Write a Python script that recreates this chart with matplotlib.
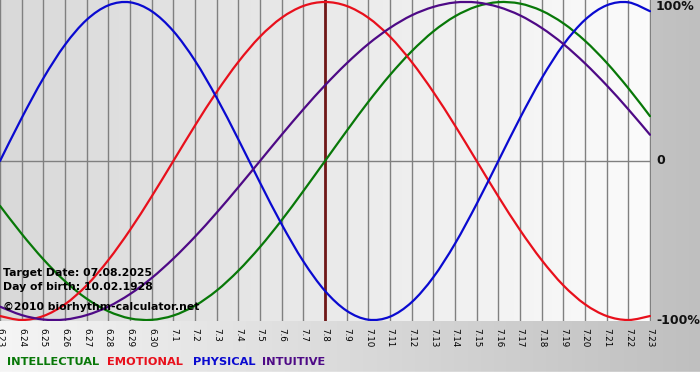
import numpy as np
import matplotlib
matplotlib.use("Agg")
import matplotlib.pyplot as plt
from matplotlib.path import Path
from matplotlib.patches import PathPatch

# days shown, 6.23 .. 7.23 (target day 7.8 in the middle)
days = ["6.23", "6.24", "6.25", "6.26", "6.27", "6.28", "6.29", "6.30",
        "7.1", "7.2", "7.3", "7.4", "7.5", "7.6", "7.7", "7.8", "7.9",
        "7.10", "7.11", "7.12", "7.13", "7.14", "7.15", "7.16", "7.17",
        "7.18", "7.19", "7.20", "7.21", "7.22", "7.23"]
target_day = "7.8"

# daily values (-1 .. 1)
intellectual = [-0.282, -0.458, -0.618, -0.756, -0.866, -0.945, -0.990, -0.999,
                -0.972, -0.910, -0.815, -0.690, -0.541, -0.372, -0.189, 0.0,
                0.189, 0.372, 0.541, 0.690, 0.815, 0.910, 0.972, 0.999,
                0.990, 0.945, 0.866, 0.756, 0.618, 0.458, 0.282]
emotional = [-0.975, -1.0, -0.975, -0.901, -0.782, -0.623, -0.434, -0.223,
             0.0, 0.223, 0.434, 0.623, 0.782, 0.901, 0.975, 1.0,
             0.975, 0.901, 0.782, 0.623, 0.434, 0.223, 0.0, -0.223,
             -0.434, -0.623, -0.782, -0.901, -0.975, -1.0, -0.975]
physical = [0.0, 0.270, 0.520, 0.731, 0.888, 0.979, 0.998, 0.942,
            0.817, 0.631, 0.398, 0.136, -0.136, -0.398, -0.631, -0.817,
            -0.942, -0.998, -0.979, -0.888, -0.731, -0.520, -0.270, 0.0,
            0.270, 0.520, 0.731, 0.888, 0.979, 0.998, 0.942]
intuitive = [-0.916, -0.969, -0.997, -0.997, -0.969, -0.916, -0.837, -0.736,
             -0.614, -0.476, -0.325, -0.165, 0.0, 0.165, 0.325, 0.476,
             0.614, 0.736, 0.837, 0.916, 0.969, 0.997, 0.997, 0.969,
             0.916, 0.837, 0.736, 0.614, 0.476, 0.325, 0.165]

series = [("INTELLECTUAL", intellectual, "#087808"),
          ("EMOTIONAL", emotional, "#e8101c"),
          ("PHYSICAL", physical, "#0a0ad0"),
          ("INTUITIVE", intuitive, "#4e0a86")]

W, H = 700, 380


def px(x, y):
    # pixel position (from top left) -> figure fraction
    return x / W, 1 - y / H


def smooth_path(xs, ys):
    # bezier path through the daily points (catmull-rom style handles)
    p = np.column_stack([xs, ys]).astype(float)
    ext = np.vstack([p[0], p, p[-1]])
    verts = [p[0]]
    codes = [Path.MOVETO]
    for i in range(len(p) - 1):
        c1 = ext[i + 1] + (ext[i + 2] - ext[i]) / 6
        c2 = ext[i + 2] - (ext[i + 3] - ext[i + 1]) / 6
        verts += [c1, c2, p[i + 1]]
        codes += [Path.CURVE4] * 3
    return Path(verts, codes)


fig = plt.figure(figsize=(7, 3.8), dpi=100)

# figure background: light on the left, gray on the right, white strip at the bottom
bg = fig.add_axes([0, 0, 1, 1], zorder=-10)
grad = np.linspace(0.96, 0.75, 256).reshape(1, -1)
bg.imshow(np.dstack([grad] * 3), aspect="auto", extent=[0, 1, 8 / H, 1])
bg.axhspan(0, 8 / H, color="white")
bg.set_xlim(0, 1)
bg.set_ylim(0, 1)
bg.axis("off")

# plot area 651 x 321 px at the top left
ax = fig.add_axes([0, 59 / H, 651 / W, 321 / H])
n = len(days)
x = np.arange(n)
xmax = 651 / (650 / (n - 1))
ax.set_xlim(0, xmax)
ax.set_ylim(-160 / 159, 161 / 159)

pgrad = np.linspace(0.85, 0.985, 256).reshape(1, -1)
ax.imshow(np.dstack([pgrad] * 3), aspect="auto",
          extent=[0, xmax, -160 / 159, 161 / 159], zorder=0)

for xi in x:
    ax.axvline(xi, color="#808080", lw=1, zorder=1)
ax.axhline(0, color="#808080", lw=1, zorder=1)
ax.axvline(days.index(target_day), color="#701818", lw=2, zorder=2)

for name, vals, col in series:
    ax.add_patch(PathPatch(smooth_path(x, vals), fill=False, edgecolor=col,
                           lw=1.6, zorder=3, capstyle="round"))

ax.set_xticks(x)
ax.set_xticklabels(days, rotation=-90, fontsize=6.3)
ax.tick_params(axis="x", length=0, pad=5)
ax.set_yticks([])
for s in ax.spines.values():
    s.set_visible(False)

# info text over the curves
info = ["Target Date: 07.08.2025", "Day of birth: 10.02.1928",
        "\u00a92010 biorhythm-calculator.net"]
for txt, yy in zip(info, [273, 287, 307]):
    fig.text(*px(3, yy), txt, fontsize=7.8, fontweight="bold",
             va="center", ha="left", color="black", zorder=5)

# percentage labels on the right
for txt, yy in [("100%", 7), ("0", 161), ("-100%", 321)]:
    fig.text(*px(656, yy), txt, fontsize=9, fontweight="bold",
             va="center", ha="left", color="#111111")

# legend words under the axis
for (name, vals, col), xx in zip(series, [7, 107, 193, 262]):
    fig.text(*px(xx, 362), name, fontsize=8.2, fontweight="bold", color=col,
             va="center", ha="left")

fig.savefig("out.png", dpi=100)
